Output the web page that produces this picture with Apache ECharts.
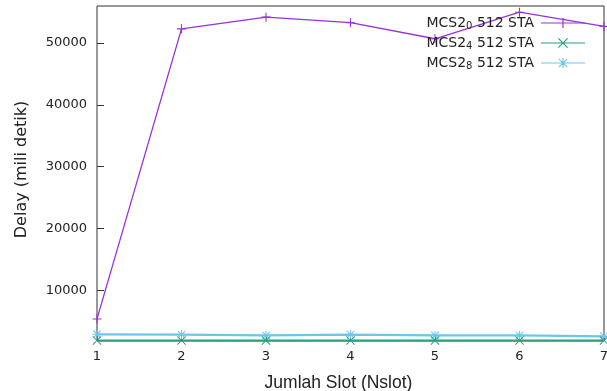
<!DOCTYPE html>
<html><head><meta charset="utf-8">
<script src="https://cdn.jsdelivr.net/npm/echarts@6/dist/echarts.min.js"></script>
<style>html,body{margin:0;padding:0;background:#fff}#c{width:607px;height:391px}</style>
</head><body><div id="c"></div>
<script>
const slots = [1, 2, 3, 4, 5, 6, 7];
const mcs0 = [5370, 52300, 54200, 53300, 50700, 55000, 52700];
const mcs4 = [1900, 1900, 1900, 1900, 1900, 1900, 1900];
const mcs8 = [2880, 2830, 2700, 2830, 2700, 2700, 2550];
const yTicks = [10000, 20000, 30000, 40000, 50000];
const names = ['MCS2_0', 'MCS2_4', 'MCS2_8'];
const legendText = {MCS2_0: '0', MCS2_4: '4', MCS2_8: '8'};

const plus = 'path://M4.4,0h1.2v4.4h4.4v1.2h-4.4v4.4h-1.2v-4.4h-4.4v-1.2h4.4z';
const cross = 'path://M0.8,0L5,4.2L9.2,0L10,0.8L5.8,5L10,9.2L9.2,10L5,5.8L0.8,10L0,9.2L4.2,5L0,0.8z';
const star = 'path://M4.4,0h1.2v4.4h4.4v1.2h-4.4v4.4h-1.2v-4.4h-4.4v-1.2h4.4zM1.2,0.4L5,4.2L8.8,0.4L9.6,1.2L5.8,5L9.6,8.8L8.8,9.6L5,5.8L1.2,9.6L0.4,8.8L4.2,5L0.4,1.2z';
// legend icons: line + marker in a 44x10 box
const lineBar = 'M0,4.4h44v1.2h-44z';
const lPlus = 'path://' + lineBar + 'M21.4,0h1.2v4.4h4.4v1.2h-4.4v4.4h-1.2v-4.4h-4.4v-1.2h4.4z';
const lCross = 'path://' + lineBar + 'M17.8,0L22,4.2L26.2,0L27,0.8L22.8,5L27,9.2L26.2,10L22,5.8L17.8,10L17,9.2L21.2,5L17,0.8z';
const lStar = 'path://' + lineBar + 'M21.4,0h1.2v4.4h4.4v1.2h-4.4v4.4h-1.2v-4.4h-4.4v-1.2h4.4zM18.2,0.4L22,4.2L25.8,0.4L26.6,1.2L22.8,5L26.6,8.8L25.8,9.6L22,5.8L18.2,9.6L17.4,8.8L21.2,5L17.4,1.2z';
const colors = ['#9b30d9', '#2e9e7c', '#6cc6ec'];
const widths = [1.3, 1.6, 2.2];
const symbols = [plus, cross, star];
const legendIcons = [lPlus, lCross, lStar];
const datas = [mcs0, mcs4, mcs8];

const chart = echarts.init(document.getElementById('c'));
chart.setOption({
  animation: false,
  textStyle: {fontFamily: 'DejaVu Sans, sans-serif'},
  grid: {left: 97, right: 3, top: 6, bottom: 50, show: true, borderColor: '#333', borderWidth: 1, outerBoundsMode: 'none', containLabel: false},
  legend: {
    right: 17, top: 11, orient: 'vertical', align: 'right', itemGap: 5,
    itemWidth: 44, itemHeight: 10,
    data: names.map((n, i) => ({name: n, icon: legendIcons[i]})),
    formatter: n => '{a|MCS2}{s|' + legendText[n] + '}{a| 512 STA}',
    textStyle: {padding: [0, 2, 0, 0], rich: {
      a: {fontSize: 14, color: '#222', fontFamily: 'DejaVu Sans, sans-serif'},
      s: {fontSize: 10, color: '#222', verticalAlign: 'bottom', padding: [6, 0, 0, 0], fontFamily: 'DejaVu Sans, sans-serif'}
    }}
  },
  xAxis: {
    type: 'value', min: 1, max: 7, interval: 1,
    name: 'Jumlah Slot (Nslot)', nameLocation: 'middle', nameGap: 33,
    nameTextStyle: {fontSize: 17.5, color: '#222', fontFamily: 'Liberation Sans, Arial, sans-serif', padding: [0, 24, 0, 0]},
    axisLine: {show: false}, splitLine: {show: false},
    axisTick: {show: true, inside: true, length: 6, lineStyle: {color: '#333'}},
    axisLabel: {fontSize: 13, color: '#222', margin: 9}
  },
  yAxis: {
    type: 'value', min: 1800, max: 56000,
    name: 'Delay (mili detik)', nameLocation: 'middle', nameGap: 67, nameRotate: 90,
    nameTextStyle: {fontSize: 16, color: '#222', padding: [0, 0, 0, 8]},
    axisLine: {show: false}, splitLine: {show: false},
    axisTick: {show: true, inside: true, length: 7, lineStyle: {color: '#333'}, customValues: yTicks},
    axisLabel: {fontSize: 13, color: '#222', margin: 10, customValues: yTicks, formatter: v => String(v)}
  },
  series: names.map((n, i) => ({
    name: n, type: 'line', data: slots.map((x, j) => [x, datas[i][j]]),
    symbol: symbols[i], symbolSize: 9, showSymbol: true,
    lineStyle: {color: colors[i], width: widths[i]},
    itemStyle: {color: colors[i]},
    z: 3 - i
  }))
});
</script></body></html>
